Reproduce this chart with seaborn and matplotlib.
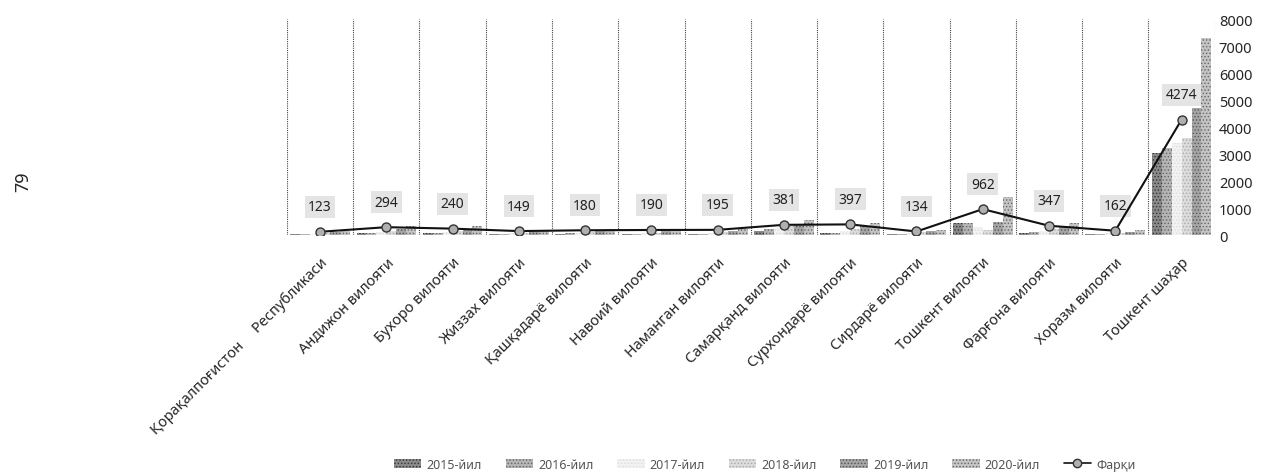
import numpy as np
import pandas as pd
import matplotlib
matplotlib.use('Agg')
import matplotlib.pyplot as plt
import seaborn as sns
from matplotlib.lines import Line2D

categories = ['Қорақалпоғистон     Республикаси', 'Андижон вилояти', 'Бухоро вилояти',
              'Жиззах вилояти', 'Қашқадарё вилояти', 'Навоий вилояти', 'Наманган вилояти',
              'Самарқанд вилояти', 'Сурхондарё вилояти', 'Сирдарё вилояти', 'Тошкент вилояти',
              'Фарғона вилояти', 'Хоразм вилояти', 'Тошкент шаҳар']
years = ['2015-йил', '2016-йил', '2017-йил', '2018-йил', '2019-йил', '2020-йил']
y2015 = [30, 60, 80, 40, 50, 35, 45, 170, 60, 40, 440, 90, 30, 3030]
y2016 = [40, 80, 95, 50, 60, 45, 55, 210, 80, 50, 450, 110, 40, 3220]
y2017 = [55, 110, 120, 65, 80, 60, 75, 280, 140, 70, 300, 150, 60, 3400]
y2018 = [80, 150, 160, 90, 110, 90, 110, 330, 220, 100, 200, 230, 90, 3590]
y2019 = [110, 220, 230, 130, 160, 150, 170, 420, 330, 140, 500, 330, 130, 4700]
y2020 = [153, 354, 320, 189, 230, 225, 240, 551, 457, 174, 1402, 437, 192, 7304]
diff = [123, 294, 240, 149, 180, 190, 195, 381, 397, 134, 962, 347, 162, 4274]

series = [y2015, y2016, y2017, y2018, y2019, y2020]
df = pd.DataFrame({
    'region': np.tile(categories, len(years)),
    'year': np.repeat(years, len(categories)),
    'value': np.concatenate(series),
})

sns.set_style('white')
plt.rcParams['font.family'] = ['Noto Sans', 'DejaVu Sans']
plt.rcParams['hatch.linewidth'] = 0.6

palette = ['#8a8a8a', '#b5b5b5', '#f2f2f2', '#dcdcdc', '#a5a5a5', '#c4c4c4']
hatch_colors = ['#333333', '#666666', '#dddddd', '#aaaaaa', '#555555', '#666666']

fig = plt.figure(figsize=(12.64, 4.77), dpi=100)
ax = fig.add_axes([0.227, 0.505, 0.734, 0.453])

sns.barplot(data=df, x='region', y='value', hue='year', palette=palette,
            width=0.9, ax=ax, saturation=1, legend=False)
for cont, hc in zip(ax.containers, hatch_colors):
    for bar in cont:
        bar.set_hatch('.....')
        bar.set_edgecolor(hc)
        bar.set_linewidth(0)

xs = np.arange(len(categories))
ax.plot(xs, diff, color='#111111', lw=1.5, marker='o', ms=6.5,
        mfc='#b0b0b0', mec='#333333', mew=1.0, zorder=5)
for x, v in zip(xs, diff):
    ax.annotate(str(v), (x, v), xytext=(0, 18), textcoords='offset points',
                ha='center', va='center', fontsize=10, fontweight='bold', color='#222222',
                bbox=dict(boxstyle='square,pad=0.25', fc='#e4e4e4', ec='none'))

ax.set_ylim(0, 8000)
ax.set_xlim(-0.5, len(categories) - 0.5)
ax.set_yticks(range(0, 8001, 1000))
ax.yaxis.tick_right()
ax.tick_params(axis='y', length=0, pad=3, labelsize=10.5)
ax.tick_params(axis='x', length=0, pad=14, labelsize=10.5)
plt.setp(ax.get_xticklabels(), rotation=45, ha='right', rotation_mode='anchor')
ax.set_xlabel('')
ax.set_ylabel('')
for s in ax.spines.values():
    s.set_visible(False)
for b in np.arange(-0.5, len(categories), 1.0):
    ax.axvline(b, color='#444444', lw=0.8, ls=(0, (1, 1)), zorder=0)
ax.axhline(0, color='#888888', lw=0.8, ls=(0, (1, 1)), zorder=0)

handles = [plt.Rectangle((0, 0), 1, 1, fc=c, ec=h, hatch='.....', lw=0)
           for c, h in zip(palette, hatch_colors)]
handles.append(Line2D([0], [0], color='#111111', lw=1.2, marker='o', ms=6,
                      mfc='#b0b0b0', mec='#333333'))
labels = years + ['Фарқи']
fig.legend(handles, labels, loc='center', bbox_to_anchor=(0.605, 0.025), ncol=7,
           frameon=False, fontsize=9, labelcolor='#555555', handlelength=2.2,
           handletextpad=0.4, columnspacing=1.9)

fig.text(0.018, 0.62, '79', rotation=90, fontsize=13, ha='center', va='center')

fig.savefig('out.png', dpi=100)
